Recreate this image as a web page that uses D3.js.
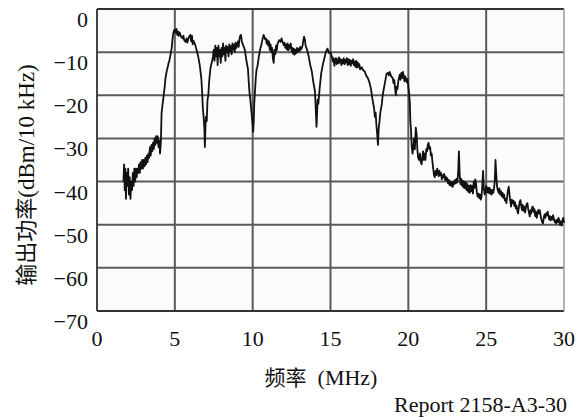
<!DOCTYPE html>
<html><head><meta charset="utf-8">
<script src="https://cdn.jsdelivr.net/npm/d3@7"></script>
<style>body{margin:0;background:#fff} .s{font-family:"Liberation Serif","Times New Roman","DejaVu Serif",serif} .k{font-family:"Noto Sans CJK SC","Noto Sans",sans-serif}</style>
</head><body><svg id="c" width="587" height="417"></svg>
<script>
const freq = [1.70,1.74,1.78,1.82,1.86,1.90,1.95,2.00,2.05,2.10,2.15,2.20,2.25,2.30,2.35,2.40,2.45,2.50,2.55,2.60,2.65,2.70,2.75,2.80,2.85,2.90,2.95,3.00,3.05,3.10,3.15,3.20,3.25,3.30,3.35,3.40,3.45,3.50,3.55,3.60,3.65,3.70,3.75,3.80,3.85,3.90,3.95,4.00,4.05,4.10,4.15,4.20,4.25,4.30,4.35,4.40,4.45,4.50,4.55,4.60,4.65,4.70,4.75,4.80,4.85,4.90,4.95,5.00,5.05,5.10,5.15,5.20,5.25,5.30,5.40,5.50,5.55,5.60,5.70,5.75,5.80,5.90,6.00,6.05,6.10,6.15,6.20,6.30,6.40,6.50,6.60,6.70,6.75,6.80,6.85,6.90,6.93,6.97,7.00,7.05,7.10,7.15,7.20,7.25,7.30,7.40,7.45,7.50,7.55,7.60,7.65,7.70,7.75,7.80,7.85,7.90,7.95,8.00,8.05,8.10,8.15,8.20,8.25,8.30,8.35,8.40,8.45,8.50,8.55,8.60,8.65,8.70,8.75,8.80,8.85,8.90,8.95,9.00,9.05,9.10,9.15,9.20,9.25,9.30,9.35,9.40,9.50,9.60,9.70,9.75,9.80,9.85,9.90,9.95,10.00,10.03,10.07,10.10,10.15,10.20,10.25,10.30,10.40,10.50,10.55,10.60,10.70,10.75,10.80,10.85,10.90,10.95,11.00,11.05,11.10,11.15,11.20,11.25,11.30,11.35,11.40,11.45,11.50,11.55,11.60,11.70,11.80,11.85,11.90,12.00,12.05,12.10,12.15,12.20,12.25,12.30,12.35,12.40,12.45,12.50,12.55,12.60,12.65,12.70,12.75,12.80,12.85,12.90,12.95,13.00,13.05,13.10,13.20,13.25,13.30,13.35,13.40,13.50,13.60,13.70,13.80,13.90,14.00,14.05,14.10,14.13,14.17,14.22,14.30,14.40,14.50,14.60,14.70,14.80,14.85,14.90,15.00,15.05,15.10,15.15,15.20,15.25,15.30,15.35,15.40,15.45,15.50,15.55,15.60,15.65,15.70,15.75,15.80,15.85,15.90,15.95,16.00,16.05,16.10,16.15,16.20,16.25,16.30,16.35,16.40,16.45,16.50,16.55,16.60,16.65,16.70,16.75,16.80,16.85,16.90,17.00,17.10,17.20,17.30,17.40,17.50,17.60,17.70,17.80,17.85,17.90,17.95,18.00,18.05,18.10,18.15,18.20,18.30,18.35,18.40,18.50,18.60,18.70,18.75,18.80,18.90,19.00,19.05,19.10,19.15,19.20,19.25,19.30,19.35,19.40,19.45,19.50,19.55,19.60,19.65,19.70,19.75,19.80,19.85,19.90,19.95,20.00,20.05,20.10,20.13,20.17,20.22,20.27,20.32,20.37,20.42,20.48,20.53,20.58,20.63,20.70,20.75,20.80,20.85,20.90,20.95,21.00,21.05,21.10,21.15,21.20,21.25,21.30,21.35,21.40,21.45,21.50,21.55,21.60,21.65,21.70,21.75,21.80,21.85,21.90,21.95,22.00,22.05,22.10,22.15,22.20,22.25,22.30,22.35,22.40,22.45,22.50,22.55,22.60,22.65,22.70,22.75,22.80,22.85,22.90,22.95,23.00,23.05,23.10,23.15,23.20,23.25,23.30,23.35,23.40,23.45,23.50,23.55,23.60,23.65,23.70,23.75,23.80,23.85,23.90,23.95,24.00,24.05,24.10,24.15,24.20,24.25,24.30,24.35,24.40,24.45,24.50,24.55,24.60,24.65,24.70,24.75,24.80,24.85,24.90,24.95,25.00,25.05,25.10,25.15,25.20,25.25,25.30,25.35,25.40,25.45,25.50,25.55,25.60,25.65,25.70,25.75,25.80,25.85,25.90,25.95,26.00,26.05,26.10,26.15,26.20,26.25,26.30,26.35,26.40,26.45,26.50,26.55,26.60,26.65,26.70,26.75,26.80,26.85,26.90,26.95,27.00,27.05,27.10,27.15,27.20,27.25,27.30,27.35,27.40,27.45,27.50,27.55,27.60,27.65,27.70,27.75,27.80,27.85,27.90,27.95,28.00,28.05,28.10,28.15,28.20,28.25,28.30,28.35,28.40,28.45,28.50,28.55,28.60,28.65,28.70,28.75,28.80,28.85,28.90,28.95,29.00,29.05,29.10,29.15,29.20,29.25,29.30,29.35,29.40,29.45,29.50,29.55,29.60,29.65,29.70,29.75,29.80,29.85,29.90,29.95,30.00];
const power = [-40,-36,-42,-37,-44,-38,-41,-37,-43,-39,-44,-40,-42,-38,-41,-37,-40,-37,-39,-37,-38,-36,-38,-35.5,-37,-35,-37,-35,-36.5,-34.5,-36,-34,-35.5,-33.5,-34.5,-32,-34,-31.5,-33,-31,-32.5,-30,-31.5,-29.5,-31,-29.5,-32,-30.5,-33.5,-31,-24,-22.5,-21,-19.5,-18,-16,-15,-14,-13.4,-12.5,-12,-11,-10,-9,-7,-5.6,-5,-4.8,-5.5,-4.6,-6,-5.2,-6.2,-5.4,-6.4,-6.8,-6.2,-7.2,-7.6,-6.8,-7.8,-6.5,-6,-7.5,-6.2,-8.2,-7.4,-8.2,-9.5,-11,-13,-16,-19,-23,-25,-28,-32,-27,-25,-26,-21,-20,-17,-15,-13.5,-12,-11,-9.5,-12,-8.5,-11,-9,-13,-8.5,-11,-9.5,-12.5,-9,-11,-8,-10.5,-9,-12,-8.5,-10,-8.8,-11,-8.2,-9.8,-8.6,-10.5,-8,-9.4,-8.2,-10,-7.8,-9,-8.5,-7.5,-8.8,-7,-6.2,-6,-7.5,-8,-8.5,-9.5,-12,-14,-17,-19.5,-21,-23,-25,-27,-28.5,-26,-22,-19,-16,-14,-13.5,-11,-9,-8.5,-7.5,-6,-6.5,-7,-6.8,-8,-7.2,-8.5,-7.5,-9.5,-8.2,-10,-9,-11.5,-12.5,-9.5,-10.5,-8.5,-9.6,-8,-7.2,-7.6,-6.8,-7.4,-8.4,-7.8,-9,-8.2,-9.4,-8,-9.6,-8.4,-9,-8,-9.8,-9,-10.4,-9.2,-10.6,-9.4,-10.2,-9,-10,-9.2,-9.8,-8.8,-9.4,-8.6,-7.4,-6.4,-7,-8.5,-9.5,-11,-13,-14.5,-17,-19,-23,-27.3,-25,-21,-22,-18.5,-15,-13,-11.5,-10,-9.2,-9.6,-10.2,-10,-10.6,-11.2,-12.2,-11.4,-13.2,-12,-11.4,-12.8,-11.6,-12.6,-11.2,-12.4,-11.6,-13,-11.8,-12.6,-11.4,-12.8,-11.8,-12.4,-11.4,-13,-11.6,-12.8,-11.8,-13.2,-12,-12.6,-11.6,-13,-12.2,-13.4,-12,-13.6,-12.4,-13.4,-12.8,-14,-13.5,-14.2,-14.5,-15.5,-16,-17,-18.5,-21,-23,-25,-24,-27,-29,-31.5,-27.5,-26,-24,-22,-20,-19,-17,-15,-14.8,-15.4,-14.6,-15.6,-16,-17.2,-16.5,-18.5,-20,-18,-18.6,-16.8,-16,-15.2,-16.4,-14.8,-16,-14.6,-15.4,-16.8,-15.6,-16.2,-17,-16.2,-18,-19.5,-22,-26,-28,-32,-33.5,-32,-30,-32.5,-27.5,-29,-32.5,-34.5,-35,-33.5,-35.5,-36,-34.5,-33,-35,-33.5,-35,-32.5,-33,-31.5,-31,-32.5,-32,-34,-33.5,-35.5,-37,-38.5,-39,-37.5,-38.5,-37,-37.5,-38.8,-37.5,-38.5,-38,-39.5,-38.5,-39,-38.2,-39.6,-38.8,-39.8,-39.2,-40.4,-39.6,-40.8,-40,-41,-40.2,-41.2,-40,-40.6,-39.6,-40.4,-39.4,-40.2,-38,-33,-38.5,-40.6,-39.4,-41,-39.8,-41.4,-40,-41.6,-40.2,-42,-40.6,-42.4,-41,-42.6,-40.8,-42.2,-41,-42.8,-40,-41.5,-39.5,-40.5,-42.5,-43.5,-42.8,-43.8,-43,-44.2,-43.6,-41,-37.5,-41.5,-43,-42.4,-41,-42.5,-41.4,-42.6,-41.4,-42.8,-41.8,-43,-42,-42.6,-41.8,-40,-35,-38.5,-41.2,-42,-42.6,-41.6,-43,-42.2,-43.4,-42.6,-43.8,-43,-44.4,-44,-45,-43.5,-42,-41.2,-43,-44.5,-45.8,-44.2,-45,-44.4,-45.6,-44.8,-46.2,-45.6,-46.8,-47.4,-46,-44.8,-44.3,-45.5,-46.6,-45.4,-46.8,-45.8,-47.2,-46,-45.2,-45,-46.4,-47.2,-48.1,-46.6,-47.4,-46,-45.8,-47,-46.4,-48,-47,-48.4,-47.2,-46.6,-47.4,-46.6,-48,-48.8,-49.4,-49.7,-48.4,-47.6,-48.4,-47.4,-47.8,-47,-48,-48.8,-48,-49,-48.2,-48.8,-47.8,-48.6,-49.4,-49,-49.7,-48.8,-49.4,-48.4,-49.2,-50,-49.2,-50.2,-49,-48.4,-49.6];
const xTicks = [0,5,10,15,20,25,30];
const yTicks = [0,-10,-20,-30,-40,-50,-60,-70];
const xTitleCn = "频率";
const xTitleEn = "(MHz)";
const yTitleCn = "输出功率";
const yTitleEn = "(dBm/10 kHz)";
const note = "Report 2158-A3-30";

const svg = d3.select("#c");
const L = 97, R = 564, T = 9, B = 311;
const x = d3.scaleLinear().domain([0,30]).range([L,R]);
const y = d3.scaleLinear().domain([-70,0]).range([B,T]);

svg.append("rect").attr("x",L).attr("y",T).attr("width",R-L).attr("height",B-T)
  .attr("fill","#fbfbfb").attr("stroke","none");

svg.append("g").selectAll("line").data(xTicks.slice(1,-1)).join("line")
  .attr("x1",d=>x(d)).attr("x2",d=>x(d)).attr("y1",T).attr("y2",B)
  .attr("stroke","#5a5a5a").attr("stroke-width",2);
svg.append("g").selectAll("line").data(yTicks.slice(1,-1)).join("line")
  .attr("y1",d=>y(d)).attr("y2",d=>y(d)).attr("x1",L).attr("x2",R)
  .attr("stroke","#5a5a5a").attr("stroke-width",2);
svg.append("line").attr("x1",L).attr("x2",R).attr("y1",T).attr("y2",T).attr("stroke","#333").attr("stroke-width",2);
svg.append("line").attr("x1",L).attr("x2",R).attr("y1",B).attr("y2",B).attr("stroke","#333").attr("stroke-width",2);
svg.append("line").attr("x1",L).attr("x2",L).attr("y1",T).attr("y2",B).attr("stroke","#444").attr("stroke-width",2);
svg.append("line").attr("x1",R).attr("x2",R).attr("y1",T).attr("y2",B).attr("stroke","#999").attr("stroke-width",1.5);

const pts = freq.map((f,i)=>[f,power[i]]);
svg.append("path").datum(pts)
  .attr("d", d3.line().x(d=>x(d[0])).y(d=>y(d[1])))
  .attr("fill","none").attr("stroke","#111").attr("stroke-width",1.8).attr("stroke-linejoin","round");

const fmt = d3.format("d");
svg.append("g").selectAll("text").data(yTicks).join("text").attr("class","s")
  .attr("x",88).attr("y",d=>y(d)+18).attr("text-anchor","end")
  .attr("font-size",22).attr("fill","#111")
  .text(d=>fmt(d));
svg.append("g").selectAll("text").data(xTicks).join("text").attr("class","s")
  .attr("x",d=>x(d)).attr("y",346).attr("text-anchor","middle")
  .attr("font-size",22).attr("fill","#111")
  .text(d=>fmt(d));

const xt = svg.append("text").attr("x",321).attr("y",385).attr("text-anchor","middle").attr("fill","#111").attr("font-size",21);
xt.append("tspan").attr("class","k").text(xTitleCn);
xt.append("tspan").attr("class","s").attr("font-size",22).text("\u00a0\u00a0"+xTitleEn);

const yt = svg.append("text").attr("transform","translate(34,175) rotate(-90)").attr("text-anchor","middle").attr("fill","#111").attr("font-size",22);
yt.append("tspan").attr("class","k").text(yTitleCn);
yt.append("tspan").attr("class","s").attr("font-size",23).text(yTitleEn);

svg.append("text").attr("class","s").attr("x",567).attr("y",412).attr("text-anchor","end")
  .attr("font-size",22).attr("fill","#111").text(note);
</script></body></html>
